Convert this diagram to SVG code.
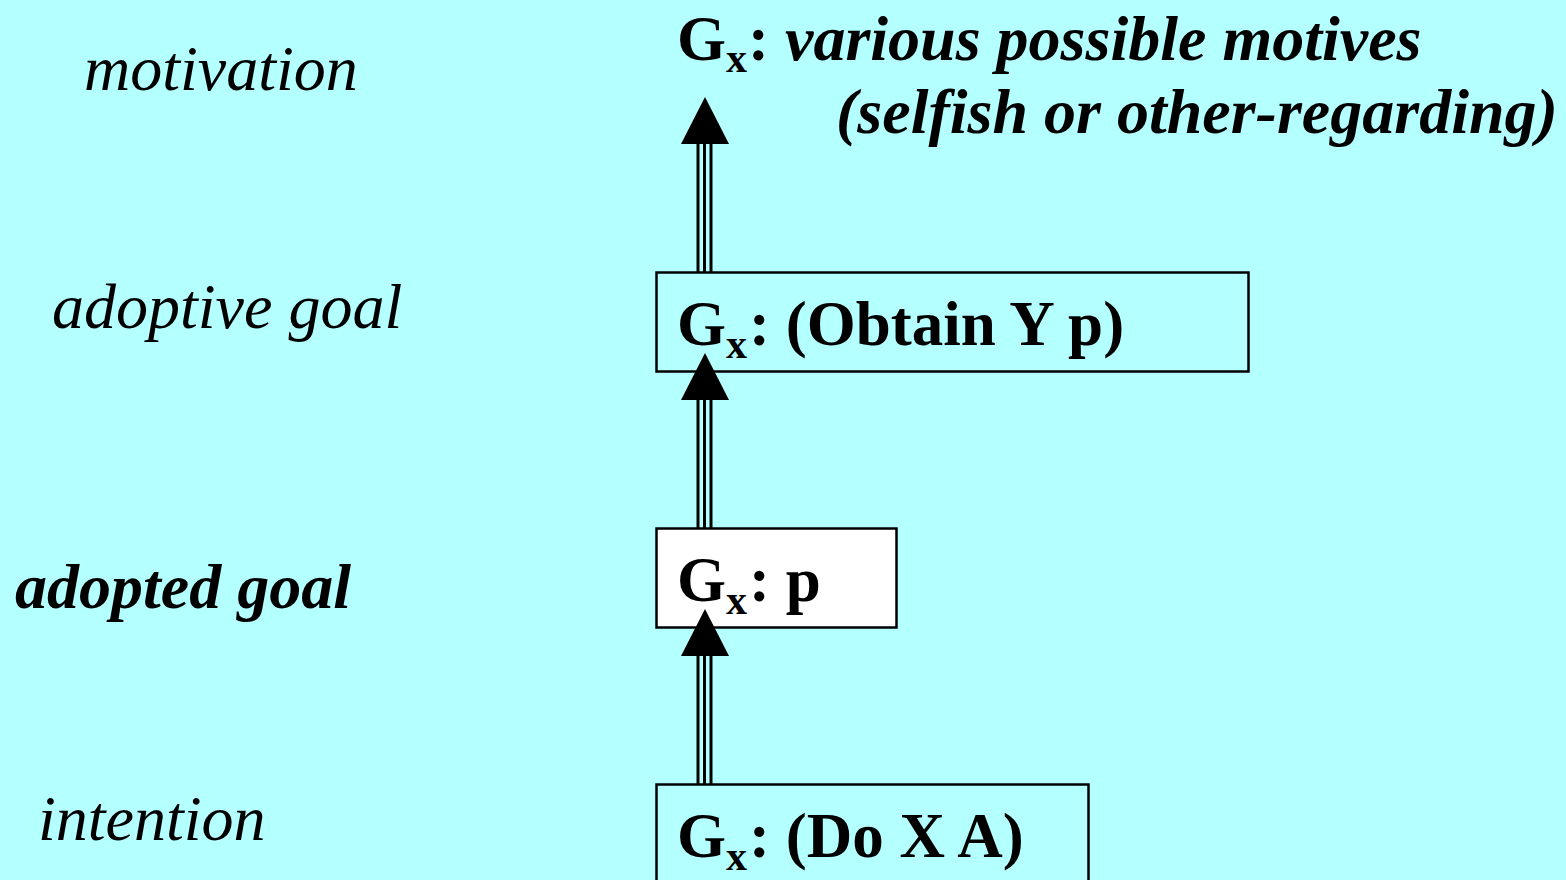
<svg xmlns="http://www.w3.org/2000/svg" width="1566" height="880" viewBox="0 0 1566 880">
<style>
.lbl{font-family:"Liberation Serif","Times New Roman",serif;font-style:italic;font-size:64px;fill:#000}
.bi{font-family:"Liberation Serif","Times New Roman",serif;font-style:italic;font-weight:bold;font-size:64px;fill:#000}
.b{font-family:"Liberation Serif","Times New Roman",serif;font-weight:bold;font-size:63px;fill:#000}
.sub{font-size:42px;font-style:normal}
.box{stroke:#000;stroke-width:2.5}
.shaft{stroke:#000;stroke-width:3}
</style>
<rect width="1566" height="880" fill="#b4ffff"/>
<g id="levels">
<text class="lbl" x="84" y="90">motivation</text>
<text class="lbl" x="52" y="328">adoptive goal</text>
<text class="bi" x="15" y="608">adopted goal</text>
<text class="lbl" x="38" y="840">intention</text>
</g>
<g id="node-motives">
<text class="b" x="677" y="60">G</text>
<text class="b sub" x="726" y="72">x</text>
<text class="b" x="748" y="60">:</text>
<text class="bi" x="785" y="60">various possible motives</text>
<text class="bi" x="836" y="133">(selfish or other-regarding)</text>
</g>
<g id="node-adoptive">
<rect class="box" x="656.5" y="272.5" width="592" height="99" fill="#b4ffff"/>
<text class="b" x="677" y="345">G</text>
<text class="b sub" x="726" y="358">x</text>
<text class="b" x="749" y="345">: (Obtain Y p)</text>
</g>
<g id="node-adopted">
<rect class="box" x="656.5" y="528.5" width="240" height="99" fill="#ffffff"/>
<text class="b" x="677" y="601">G</text>
<text class="b sub" x="726" y="614">x</text>
<text class="b" x="749" y="601">: p</text>
</g>
<g id="node-intention">
<rect class="box" x="656.5" y="784.5" width="432" height="110" fill="#b4ffff"/>
<text class="b" x="677" y="857">G</text>
<text class="b sub" x="726" y="870">x</text>
<text class="b" x="749" y="857">: (Do X A)</text>
</g>
<g id="connectors">
<g>
<line class="shaft" x1="698" y1="143" x2="698" y2="272"/>
<line class="shaft" x1="704.5" y1="143" x2="704.5" y2="272"/>
<line class="shaft" x1="711" y1="143" x2="711" y2="272"/>
<polygon points="705,97 729,144 681,144" fill="#000"/>
</g>
<g>
<line class="shaft" x1="698" y1="399" x2="698" y2="528"/>
<line class="shaft" x1="704.5" y1="399" x2="704.5" y2="528"/>
<line class="shaft" x1="711" y1="399" x2="711" y2="528"/>
<polygon points="705,353 729,400 681,400" fill="#000"/>
</g>
<g>
<line class="shaft" x1="698" y1="655" x2="698" y2="784"/>
<line class="shaft" x1="704.5" y1="655" x2="704.5" y2="784"/>
<line class="shaft" x1="711" y1="655" x2="711" y2="784"/>
<polygon points="705,609 729,656 681,656" fill="#000"/>
</g>
</g>
</svg>
